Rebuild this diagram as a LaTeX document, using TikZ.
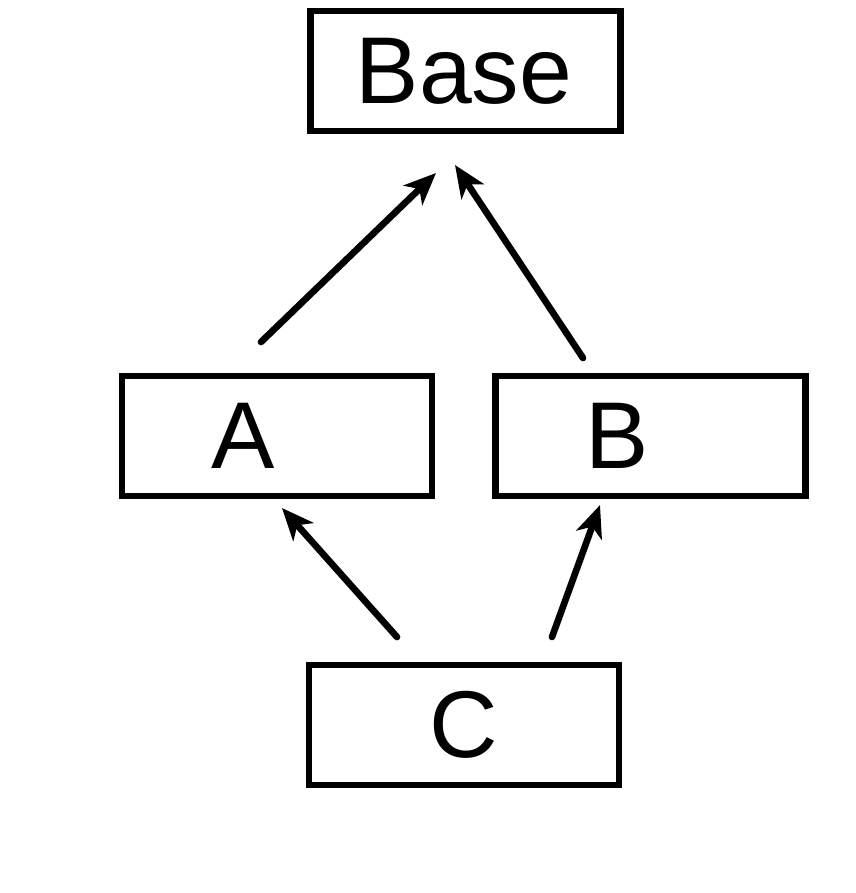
\documentclass[tikz,border=0pt]{standalone}
\usepackage{fontspec}
\setmainfont{Liberation Sans}
\usetikzlibrary{arrows.meta}

\begin{document}
\begin{tikzpicture}[
    line width=3.8pt,
    cls/.style={draw, rectangle, minimum width=6.2cm, minimum height=2.4cm, inner sep=0pt, fill=white},
    txt/.style={font=\fontsize{54}{60}\selectfont, inner sep=0pt},
    arr/.style={-{Stealth[length=6.4mm, width=5.4mm, inset=1.8mm]}, line cap=round}
]
    \useasboundingbox (0,0) rectangle (17.12,-17.86);

    % Classes
    \node[cls] (base) at (9.31,-1.42) {};
    \node[cls] (a) at (5.54,-8.72) {};
    \node[cls] (b) at (13.01,-8.72) {};
    \node[cls] (c) at (9.28,-14.5) {};

    % Names
    \node[txt] (baselbl) at ([xshift=-0.03cm]base.center) {Base};
    \node[txt] (albl) at ([xshift=-0.68cm]a.center) {A};
    \node[txt] (blbl) at ([xshift=-0.66cm]b.center) {B};
    \node[txt] (clbl) at (c.center) {C};

    % Arrow ends
    \coordinate (aout) at (5.22,-6.84);
    \coordinate (ain) at (5.64,-10.16);
    \coordinate (bout) at (11.66,-7.16);
    \coordinate (bin) at (12.0,-10.1);
    \coordinate (cleft) at (7.94,-12.74);
    \coordinate (cright) at (11.04,-12.74);
    \coordinate (basel) at (8.72,-3.46);
    \coordinate (baser) at (9.1,-3.3);

    % Inheritance
    \draw[arr] (aout) -- (basel);
    \draw[arr] (bout) -- (baser);
    \draw[arr] (cleft) -- (ain);
    \draw[arr] (cright) -- (bin);

\end{tikzpicture}
\end{document}
